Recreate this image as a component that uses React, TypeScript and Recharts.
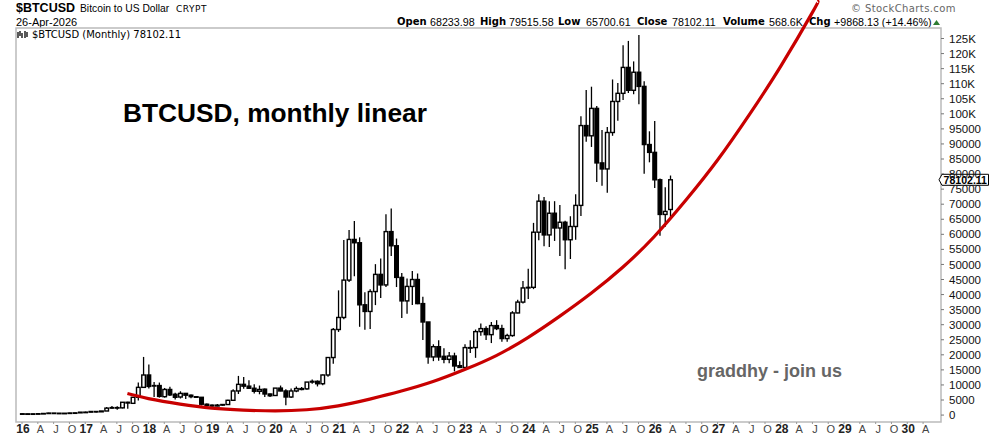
import {
  Bar,
  ComposedChart,
  Line,
  ReferenceArea,
  ReferenceDot,
  XAxis,
  YAxis,
} from 'recharts'

const opens = [
  430, 370, 415, 415, 450, 530, 670, 620, 575, 610, 700, 740,
  960, 970, 1190, 1080, 1350, 2300, 2480, 2400, 4250, 3900, 5900, 9200,
  13300, 9700, 9800, 6100, 8500, 6900, 6000, 7200, 6600, 6100, 5900, 3600,
  3300, 3000, 3300, 3500, 4900, 8000, 10200, 9600, 8900, 7900, 8600, 7000,
  6500, 8950, 8000, 6000, 8000, 8800, 8700, 10950, 11200, 10400, 13300, 19100,
  28400, 32400, 44800, 58300, 57200, 36600, 34400, 41000, 46700, 43200, 60900, 56200,
  45700, 37900, 42700, 45000, 37000, 30900, 19300, 22700, 19500, 18500, 19600, 16400,
  15800, 22200, 22400, 27700, 28700, 26700, 29700, 28700, 25400, 26400, 33900, 37500,
  42200, 42400, 60700, 71000, 59800, 67000, 62100, 64000, 58200, 62600, 69600, 96100,
  92700, 101800, 83700, 81700, 93800, 104100, 106800, 115400, 107800, 113800, 109100, 89800,
  87200, 78100, 66600, 68233.98,
]
const closes = [
  370, 415, 415, 450, 530, 670, 620, 575, 610, 700, 740, 960,
  970, 1190, 1080, 1350, 2300, 2480, 2400, 4250, 4000, 5900, 9200, 13300,
  9500, 9800, 6200, 8500, 6700, 5900, 7200, 6600, 6100, 5900, 3600, 3200,
  3000, 3300, 3500, 4900, 8000, 10200, 9600, 8900, 7900, 8500, 7000, 6400,
  8950, 8000, 6000, 8000, 8800, 8500, 10950, 11200, 10400, 13300, 19100, 28400,
  32400, 44800, 58300, 57200, 36600, 34400, 41000, 46700, 43200, 60900, 56200, 45700,
  37900, 42700, 45000, 37000, 30900, 19300, 22700, 19300, 18500, 19600, 16300, 15800,
  22400, 22400, 27700, 28700, 26700, 29700, 28700, 25400, 26400, 33900, 37500, 42200,
  42400, 60700, 71000, 59800, 67000, 62100, 64000, 58200, 62600, 69600, 96100, 92700,
  101800, 83700, 81700, 93800, 104100, 106800, 115400, 107800, 113800, 109100, 89800, 87200,
  78100, 66600, 67600, 78102.11,
]
const highs = [
  465, 445, 440, 470, 545, 780, 700, 625, 615, 730, 755, 980,
  1150, 1200, 1350, 1350, 2700, 3000, 2950, 4300, 4450, 6000, 10800, 19300,
  16800, 11000, 10800, 9000, 9400, 7400, 7900, 7200, 6800, 6200, 6000, 3800,
  3500, 3700, 3600, 5100, 8600, 13000, 12600, 11600, 10200, 9800, 8800, 7200,
  9000, 9800, 8600, 8800, 9500, 9300, 11000, 11800, 11500, 13500, 19200, 28900,
  41400, 58100, 61400, 64400, 59000, 40800, 41800, 50100, 52000, 66700, 68600, 58600,
  47200, 45300, 47800, 47000, 39300, 30900, 23500, 24800, 22200, 20900, 20700, 17900,
  23500, 24800, 28400, 30400, 29500, 30900, 31500, 30000, 27000, 34500, 38300, 44500,
  48600, 63800, 73300, 72400, 71000, 71000, 69700, 64500, 66000, 73300, 99200, 107900,
  109000, 102600, 94600, 95600, 111400, 110200, 122800, 124200, 117400, 126200, 110800, 94200,
  97600, 78500, 75600, 79515.58,
]
const lows = [
  355, 365, 380, 410, 445, 525, 600, 475, 565, 605, 690, 735,
  750, 940, 890, 1080, 1350, 2100, 1800, 2200, 2100, 3800, 4800, 9000,
  8800, 6000, 5800, 5800, 6300, 5200, 5500, 5300, 5600, 5700, 3200, 2900,
  2800, 2900, 3100, 3500, 4800, 7000, 8700, 8800, 7200, 6900, 6000, 6000,
  6300, 7900, 3300, 5700, 7600, 8200, 8400, 10400, 9500, 9900, 12700, 17000,
  27600, 31800, 44200, 46100, 29300, 28300, 28600, 36500, 38900, 42500, 52800, 42500,
  32200, 33600, 36500, 36800, 24900, 17000, 17900, 18000, 17200, 17200, 14500, 15800,
  15800, 20600, 19000, 26300, 24900, 23900, 28200, 24300, 24300, 26000, 33800, 37000,
  38500, 41800, 58000, 56000, 55800, 57800, 52800, 48400, 51800, 58200, 66100, 90700,
  89000, 77400, 76100, 73800, 92700, 97700, 104600, 106900, 106500, 103200, 80100, 83900,
  75400, 59500, 62500, 65700.61,
]

// month number counted from Jan 2016
const curveMonths = [20, 24, 30, 36, 42, 48, 54, 60, 66, 72, 78, 84, 90, 96, 102, 108, 114, 120, 126, 132, 138, 144, 150, 151]
const curveValues = [7137, 5477, 3651, 2324, 1660, 1394, 1759, 3054, 5311, 7967, 11120, 15103, 19750, 25725, 32763, 40430, 49060, 59285, 71367, 84645, 99648, 115847, 133672, 137257]

const priceTicks = [0, 5000, 10000, 15000, 20000, 25000, 30000, 35000, 40000, 45000, 50000, 55000, 60000, 65000, 70000, 75000, 80000, 85000, 90000, 95000, 100000, 105000, 110000, 115000, 120000, 125000]
const monthTicks = [0, 3, 6, 9, 12, 15, 18, 21, 24, 27, 30, 33, 36, 39, 42, 45, 48, 51, 54, 57, 60, 63, 66, 69, 72, 75, 78, 81, 84, 87, 90, 93, 96, 99, 102, 105, 108, 111, 114, 117, 120, 123, 126, 129, 132, 135, 138, 141, 144, 147, 150, 153, 156, 159, 162, 165, 168, 171]
const quarterLetters = ['', 'A', 'J', 'O']

const X_MIN = -1.14
const X_MAX = 174.4
const Y_MIN = -2300
const Y_TOP = 128486
const Y_MAX = 137780
const SANS = '"Liberation Sans", Arial, sans-serif'
const WIDE = '"DejaVu Sans", Verdana, sans-serif'

const rows = Array.from({ length: 152 }, (_, i) => {
  const c = curveMonths.indexOf(i)
  return {
    i,
    open: opens[i],
    high: highs[i],
    low: lows[i],
    close: closes[i],
    curve: c >= 0 ? curveValues[c] : undefined,
  }
})

function Candle(props: any) {
  const { x, y, width, height, payload } = props
  if (payload.high === undefined || !height) return null
  const perUnit = Math.abs(height) / (payload.high - payload.low)
  const cx = x + width / 2
  const top = y + (payload.high - Math.max(payload.open, payload.close)) * perUnit
  const bottom = y + (payload.high - Math.min(payload.open, payload.close)) * perUnit
  const up = payload.close >= payload.open
  return (
    <g>
      <line x1={cx} x2={cx} y1={y} y2={y + Math.abs(height)} stroke="#000" strokeWidth={1.3} />
      <rect x={cx - 1.8} y={top} width={3.6} height={Math.max(bottom - top, 0.5)} fill={up ? '#fff' : '#000'} stroke="#000" strokeWidth={1.4} />
    </g>
  )
}

function MonthTick({ x, y, payload }: any) {
  const q = payload.value % 12
  const isYear = q === 0
  const label = isYear ? String(16 + payload.value / 12) : quarterLetters[q / 3]
  return (
    <text x={x + (isYear ? 1 : 2.5)} y={y + 7} textAnchor="middle" fontFamily={SANS} fontSize={isYear ? 12 : 11} fontWeight={isYear ? 700 : 400} fill={isYear ? '#222' : '#444'}>
      {label}
    </text>
  )
}

function PriceTag({ cx, cy }: any) {
  return (
    <g>
      <polygon points={`${cx - 2},${cy} ${cx + 1},${cy - 5.5} ${cx + 47.5},${cy - 5.5} ${cx + 47.5},${cy + 5.5} ${cx + 1},${cy + 5.5}`} fill="#fff" stroke="#000" strokeWidth={1} />
      <text x={cx + 2.5} y={cy + 4} fontFamily={SANS} fontSize={11} fontWeight={700} fill="#000" textLength={43.5} lengthAdjust="spacingAndGlyphs">78102.11</text>
    </g>
  )
}

const statNames = ['Open', 'High', 'Low', 'Close', 'Volume', 'Chg']
const statValues = ['68233.98', '79515.58', '65700.61', '78102.11', '568.6K', '+9868.13 (+14.46%)']
const statNameLeft = [397, 480, 558, 637, 723, 809]
const statValueLeft = [430, 509, 586, 672, 769, 834]

function Label({ left, top, style, children }: any) {
  return <div style={{ position: 'absolute', left, top, whiteSpace: 'nowrap', lineHeight: 1, ...style }}>{children}</div>
}

export default function App() {
  return (
    <div style={{ position: 'absolute', left: 0, top: 0, width: 990, height: 438, overflow: 'hidden', background: '#fff' }}>
      <style>{'body{margin:0;overflow:hidden}'}</style>
      <Label left={16} top={2} style={{ fontFamily: SANS, fontSize: 12.5, fontWeight: 700 }}>$BTCUSD</Label>
      <Label left={80} top={4} style={{ fontFamily: SANS, fontSize: 10.3 }}>Bitcoin to US Dollar</Label>
      <Label left={176} top={5} style={{ fontFamily: WIDE, fontSize: 9, letterSpacing: 0.5 }}>CRYPT</Label>
      <Label left={16} top={17} style={{ fontFamily: SANS, fontSize: 11 }}>26-Apr-2026</Label>
      {statNames.map((name, n) => (
        <Label key={name} left={statNameLeft[n]} top={17} style={{ fontFamily: WIDE, fontSize: 10, fontWeight: 700 }}>{name}</Label>
      ))}
      {statValues.map((value, n) => (
        <Label key={value} left={statValueLeft[n]} top={17} style={{ fontFamily: SANS, fontSize: 10.7 }}>{value}</Label>
      ))}
      <svg style={{ position: 'absolute', left: 933, top: 20 }} width={8} height={6}>
        <polygon points="0,5 3.5,0 7,5" fill="#2e7d32" />
      </svg>
      <Label left={851} top={4} style={{ fontFamily: WIDE, fontSize: 10, color: '#666', letterSpacing: 0.4 }}>© StockCharts.com</Label>
      <svg style={{ position: 'absolute', left: 17, top: 30 }} width={12} height={10}>
        <path d="M1 2V8M3 1V6M5 3V8M8 1V8M10 2V7" stroke="#000" strokeWidth={1.3} fill="none" />
      </svg>
      <Label left={32} top={30} style={{ fontFamily: WIDE, fontSize: 10 }}>$BTCUSD (Monthly) 78102.11</Label>
      <Label left={123} top={100} style={{ fontFamily: SANS, fontSize: 26.3, fontWeight: 700 }}>BTCUSD, monthly linear</Label>
      <Label left={697} top={362} style={{ fontFamily: SANS, fontSize: 18, fontWeight: 700, color: '#666' }}>graddhy - join us</Label>
      <div style={{ position: 'absolute', left: 0, top: 0 }}>
        <ComposedChart width={990} height={438} data={rows} margin={{ top: 0, right: 0, bottom: 0, left: 16 }}>
          <XAxis
            dataKey="i"
            type="number"
            domain={[X_MIN, X_MAX]}
            ticks={monthTicks}
            interval={0}
            tick={<MonthTick />}
            tickSize={2}
            tickLine={{ stroke: '#999' }}
            axisLine={false}
            height={16}
          />
          <YAxis
            orientation="right"
            type="number"
            domain={[Y_MIN, Y_MAX]}
            ticks={priceTicks}
            interval={0}
            width={49}
            tickSize={3}
            tickMargin={5}
            axisLine={false}
            tickLine={{ stroke: '#777' }}
            tick={{ fontFamily: SANS, fontSize: 11.5, fill: '#111' }}
            tickFormatter={(v: number) => (v >= 100000 ? `${v / 1000}K` : String(v))}
          />
          <ReferenceArea x1={X_MIN} x2={X_MAX} y1={Y_MIN} y2={Y_TOP} fill="none" stroke="#bbb" strokeWidth={1.5} />
          <Bar dataKey={(d: any) => (d.high === undefined ? undefined : [d.low, d.high])} barSize={4} shape={<Candle />} isAnimationActive={false} />
          <Line dataKey="curve" type="natural" connectNulls stroke="#c80000" strokeWidth={3.2} dot={false} isAnimationActive={false} />
          <ReferenceDot x={X_MAX} y={78102.11} r={1} shape={<PriceTag />} />
        </ComposedChart>
      </div>
    </div>
  )
}
